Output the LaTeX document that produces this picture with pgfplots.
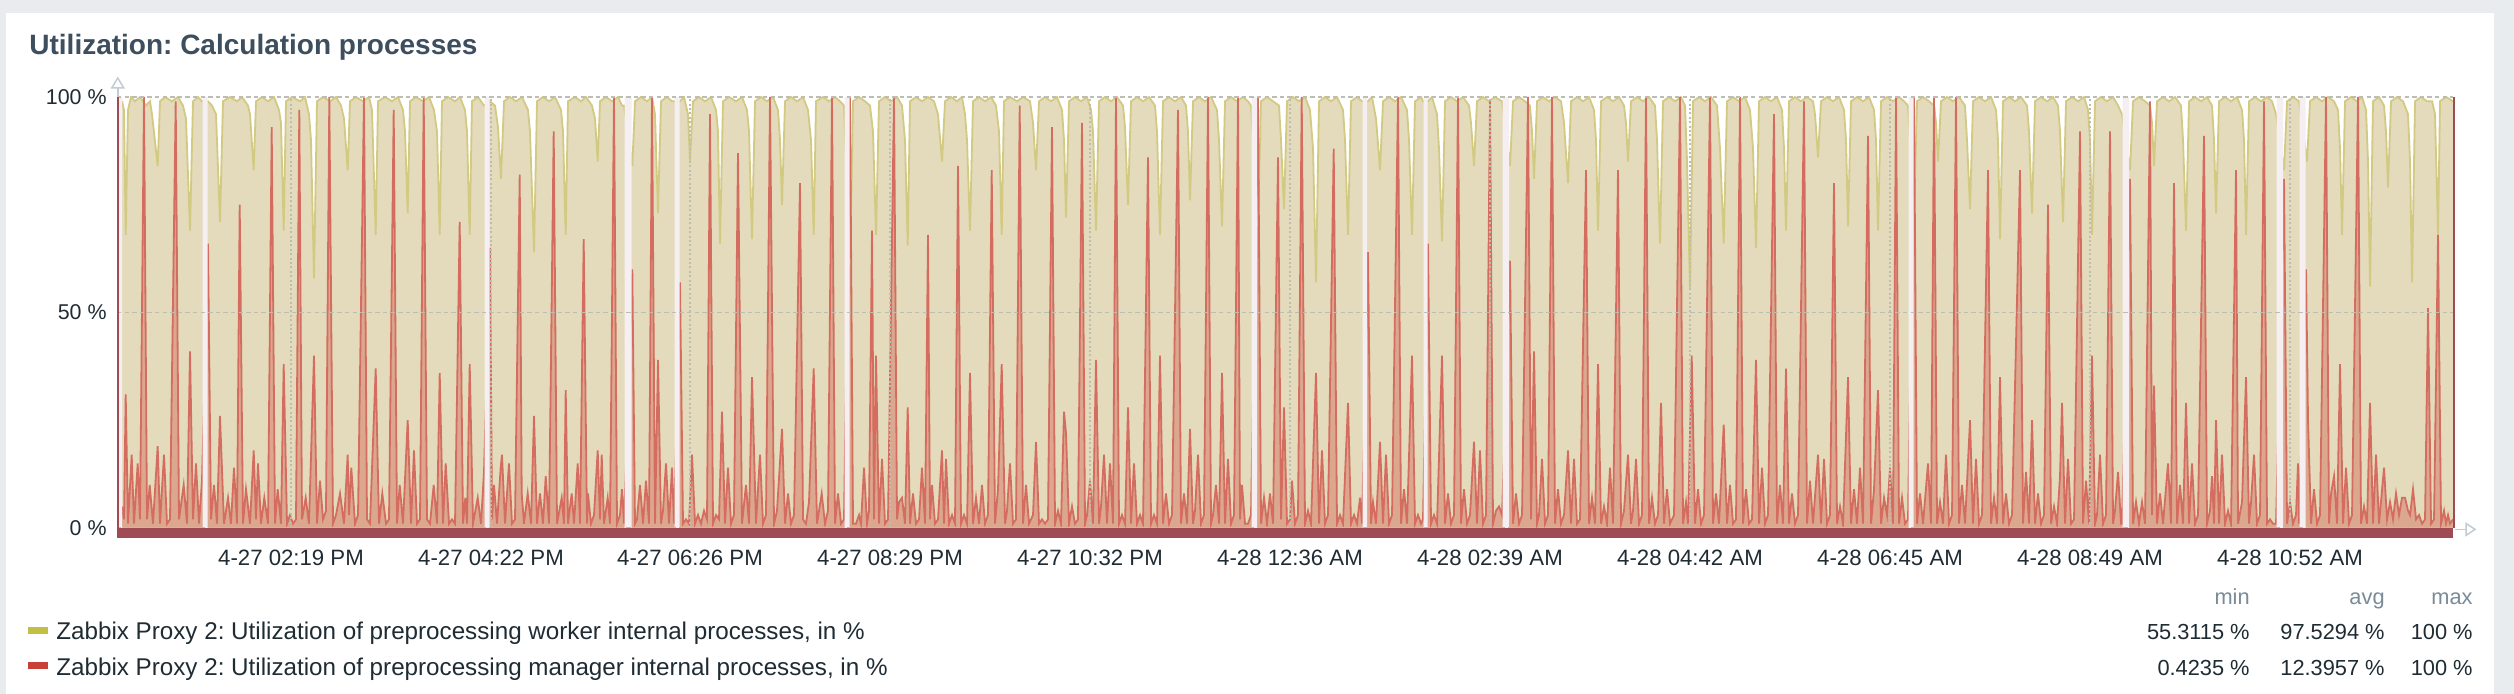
\documentclass[border=0pt]{standalone}
\usepackage{pgfplots}
\usepackage{pgfplotstable}
\pgfplotsset{compat=1.18}
\usepackage{fontspec}
\setmainfont{Liberation Sans}
\frenchspacing
\definecolor{outerbg}{HTML}{E8ECEF}
\definecolor{titlec}{HTML}{3D4F5E}
\definecolor{txt}{HTML}{1F2C33}
\definecolor{hdr}{HTML}{7A8B98}
\definecolor{beige}{HTML}{E3DBBB}
\definecolor{yline}{HTML}{D2C983}
\definecolor{rfill}{HTML}{DBA78E}
\definecolor{rline}{HTML}{D46D60}
\definecolor{gapc}{HTML}{F5EFF1}
\definecolor{barc}{HTML}{A04A55}
\definecolor{gridc}{HTML}{BDBDB3}
\definecolor{arrowc}{HTML}{C3CCD3}
\definecolor{legy}{HTML}{C2C044}
\definecolor{legr}{HTML}{C8403A}

% manager (red) series: x = horizontal position of the 24 h time axis, y = %
\pgfplotstableread[row sep=\\]{
x y\\
122 5\\ 124 2\\ 125.7 31\\ 128 1\\ 131.7 17\\ 134 1\\ 137.7 15\\ 140 2\\ 144 100\\ 147 2\\ 149.7 10\\ 153 1\\ 157.7 19\\ 160 1\\ 164 17\\ 167 1\\ 170 2\\ 175.7 99\\ 179 2\\ 183.7 10\\ 187 1\\ 190 41\\ 193 2\\ 196 15\\ 199 1\\ 202 11\\
208 66\\ 211 2\\ 214 10\\ 217 1\\ 220 26\\ 224 1\\ 228 7\\ 231 1\\ 234 14\\ 237 1\\ 239.7 75\\ 243 1\\ 246 9\\ 250 1\\ 253.7 18\\ 256 2\\ 258 15\\ 261 1\\ 264.3 7\\ 268 1\\ 271.7 93\\ 275 1\\ 277.7 9\\ 281 1\\ 283.7 38\\ 287 1\\ 290 3\\ 293 1\\ 296 2\\ 299.3 97\\ 302 2\\ 305.7 7\\ 309 1\\ 314 40\\ 317 1\\ 320 11\\ 323 2\\ 326 4\\ 329.3 100\\ 333 1\\ 336 3\\ 340 8\\ 344 1\\ 347.7 17\\ 349 3\\ 351.3 14\\ 355 1\\ 358 3\\ 364 100\\ 367 2\\ 370 1\\ 375.7 37\\ 379 1\\ 382.3 8\\ 386 1\\ 389 2\\ 393.7 97\\ 397 1\\ 399.7 10\\ 403 1\\ 407.7 25\\ 411 1\\ 414 18\\ 417 1\\ 420 2\\ 423.7 100\\ 427 2\\ 430 1\\ 433.7 10\\ 437 1\\ 439.7 36\\ 443 1\\ 445.7 15\\ 449 1\\ 452 2\\ 455 1\\ 459.7 71\\ 463 1\\ 465.3 7\\ 467 1\\ 469.7 38\\ 473 1\\ 477.7 7\\ 481 1\\ 484 13\\
490 65\\ 492 2\\ 494 10\\ 497 1\\ 500.7 14\\ 502 17\\ 505 1\\ 509 15\\ 512 1\\ 515 2\\ 519.7 82\\ 521.7 8\\ 524 1\\ 527.7 8\\ 531 1\\ 534 26\\ 537 1\\ 540 8\\ 543 1\\ 545.7 12\\ 549 1\\ 553.7 92\\ 557 1\\ 561.7 7\\ 564 1\\ 565.7 32\\ 568 1\\ 571.7 8\\ 574 1\\ 577.7 15\\ 580 1\\ 583.7 67\\ 587 1\\ 588 8\\ 591 1\\ 594 3\\ 597.7 18\\ 600 2\\ 601.7 17\\ 604 1\\ 607.7 7\\ 610 1\\ 614 100\\ 617 1\\ 620 3\\ 622 9\\ 624 1\\
632.3 60\\ 635 1\\ 637 2\\ 640 10\\ 643 1\\ 646 11\\ 649 1\\ 652 100\\ 655 1\\ 658 39\\ 661 1\\ 663 4\\ 666 15\\ 669 1\\ 672 14\\ 674 1\\
680 57\\ 683 1\\ 686 2\\ 689 1\\ 692 17\\ 695 1\\ 698 3\\ 701 1\\ 704 4\\ 707 2\\ 710 96\\ 713 1\\ 716 3\\ 719 2\\ 722 27\\ 725 1\\ 728 14\\ 731 1\\ 734 3\\ 738 87\\ 742 1\\ 746 10\\ 749 1\\ 752 35\\ 756 1\\ 760 17\\ 763 1\\ 766 3\\ 770 100\\ 774 1\\ 777 4\\ 782 23\\ 785 1\\ 788 8\\ 791 1\\ 794 3\\ 800 80\\ 803 2\\ 806 1\\ 809 6\\ 813.7 37\\ 817 1\\ 821.7 8\\ 825 1\\ 828 4\\ 832 100\\ 835 1\\ 838 8\\ 841 1\\ 844 2\\
850 100\\ 853 1\\ 856 1\\ 859 3\\ 861 1\\ 864 14\\ 867 1\\ 869 4\\ 872 69\\ 874 2\\ 876 40\\ 879 1\\ 882 16\\ 885 1\\ 888 2\\ 894 100\\ 897 2\\ 899 6\\ 902 7\\ 905 1\\ 907.7 28\\ 910 1\\ 913 8\\ 916 1\\ 919 2\\ 922 14\\ 925 1\\ 928 68\\ 930 2\\ 932 10\\ 935 1\\ 938 2\\ 942 18\\ 944 1\\ 946 16\\ 949 1\\ 952 3\\ 955 1\\ 958 84\\ 961 1\\ 964 3\\ 967 1\\ 970 36\\ 973 1\\ 976 7\\ 979 1\\ 982 10\\ 985 1\\ 988 3\\ 991.7 83\\ 995 1\\ 998 9\\ 1001.7 38\\ 1005 1\\ 1007 4\\ 1010 15\\ 1013 1\\ 1016 2\\ 1019.7 98\\ 1023 1\\ 1026 10\\ 1029 1\\ 1033 3\\ 1036 20\\ 1039 1\\ 1042 2\\ 1045 1\\ 1048 2\\ 1052 93\\ 1055 1\\ 1058 4\\ 1061 1\\ 1064 27\\ 1066 22\\ 1069 1\\ 1072 5\\ 1075 1\\ 1078 2\\ 1082 94\\ 1085 1\\ 1087 3\\ 1090 11\\ 1093 1\\ 1096 39\\ 1099 1\\ 1101 5\\ 1104 17\\ 1107 1\\ 1110 15\\ 1113 1\\ 1116 100\\ 1119 1\\ 1122 3\\ 1125 1\\ 1128 28\\ 1131 1\\ 1134 15\\ 1137 1\\ 1140 3\\ 1143 1\\ 1148 86\\ 1151 1\\ 1154 3\\ 1157 1\\ 1160 40\\ 1163 1\\ 1166 8\\ 1169 1\\ 1172 3\\ 1178 97\\ 1181 1\\ 1184 8\\ 1187 1\\ 1190 23\\ 1193 1\\ 1195 4\\ 1198 17\\ 1201 1\\ 1204 3\\ 1208 100\\ 1211 1\\ 1213 3\\ 1216 10\\ 1219 1\\ 1222 36\\ 1225 1\\ 1228 16\\ 1231 1\\ 1234 3\\ 1238 100\\ 1240 2\\ 1242 10\\ 1245 1\\ 1248 1\\ 1251 3\\
1258 100\\ 1261 1\\ 1264 7\\ 1267 1\\ 1270 8\\ 1273 1\\ 1278 86\\ 1281 2\\ 1284 28\\ 1287 1\\ 1290 2\\ 1292 11\\ 1295 1\\ 1298 3\\ 1301.7 100\\ 1305 1\\ 1308 4\\ 1311 1\\ 1316 36\\ 1319 1\\ 1322 18\\ 1325 1\\ 1328 3\\ 1333.7 88\\ 1337 1\\ 1340 3\\ 1343 1\\ 1348 29\\ 1351 1\\ 1354 3\\ 1357 1\\ 1360 7\\ 1362 1\\
1368 64\\ 1371 1\\ 1373 6\\ 1376 1\\ 1380 20\\ 1383 1\\ 1386 17\\ 1389 1\\ 1392 3\\ 1398 100\\ 1401 1\\ 1404 9\\ 1407 1\\ 1412 40\\ 1415 1\\ 1418 3\\ 1421 1\\ 1423 2\\
1428 66\\ 1431 1\\ 1434 3\\ 1437 1\\ 1442 40\\ 1445 1\\ 1448 8\\ 1451 1\\ 1454 3\\ 1458 100\\ 1461 1\\ 1464 9\\ 1467 1\\ 1470 3\\ 1474 20\\ 1477 1\\ 1480 18\\ 1483 1\\ 1486 3\\ 1490 99\\ 1493 1\\ 1496 4\\ 1499 5\\ 1502 3\\
1510 62\\ 1513 1\\ 1516 8\\ 1519 1\\ 1522 3\\ 1528 100\\ 1531 2\\ 1534 41\\ 1537 1\\ 1539 3\\ 1542 16\\ 1545 1\\ 1548 3\\ 1552 100\\ 1555 1\\ 1558 9\\ 1561 1\\ 1564 3\\ 1568 18\\ 1571 1\\ 1574 16\\ 1577 1\\ 1580 2\\ 1586 83\\ 1589 1\\ 1592 7\\ 1595 1\\ 1598 38\\ 1601 1\\ 1604 5\\ 1607 1\\ 1610 14\\ 1613 1\\ 1618 83\\ 1621 1\\ 1624 4\\ 1628 17\\ 1631 1\\ 1633 4\\ 1636 16\\ 1639 1\\ 1642 3\\ 1646 100\\ 1649 1\\ 1652 7\\ 1655 1\\ 1658 3\\ 1661 29\\ 1664 1\\ 1667 9\\ 1670 1\\ 1674 3\\ 1680 100\\ 1683 1\\ 1686 6\\ 1688 1\\ 1691.7 40\\ 1695 1\\ 1698 9\\ 1701 1\\ 1704 3\\ 1710 100\\ 1713 1\\ 1716 8\\ 1719 1\\ 1723.7 24\\ 1727 1\\ 1730 10\\ 1733 1\\ 1736 2\\ 1740 100\\ 1743 1\\ 1746 9\\ 1749 1\\ 1752 2\\ 1756 39\\ 1759 1\\ 1762 14\\ 1765 1\\ 1768 3\\ 1774 96\\ 1777 1\\ 1780 10\\ 1783 1\\ 1786 37\\ 1789 1\\ 1792 8\\ 1795 1\\ 1798 3\\ 1804 99\\ 1807 1\\ 1810 11\\ 1813 1\\ 1818 17\\ 1821 1\\ 1824 16\\ 1827 1\\ 1830 3\\ 1834 80\\ 1837 1\\ 1840 5\\ 1843 1\\ 1848 35\\ 1851 1\\ 1854 9\\ 1857 1\\ 1860 14\\ 1863 1\\ 1868 91\\ 1871 1\\ 1874 9\\ 1878 32\\ 1881 1\\ 1884 7\\ 1887 3\\ 1890 14\\ 1893 1\\ 1896 100\\ 1899 1\\ 1902 7\\ 1905 1\\ 1908 2\\
1914 100\\ 1917 1\\ 1920 8\\ 1923 1\\ 1928 15\\ 1931 1\\ 1934 100\\ 1937 1\\ 1940 6\\ 1943 1\\ 1946 17\\ 1949 1\\ 1952 3\\ 1956 100\\ 1959 1\\ 1962 10\\ 1965 1\\ 1970 25\\ 1973 1\\ 1976 16\\ 1979 1\\ 1982 3\\ 1988 83\\ 1991 1\\ 1994 7\\ 1997 1\\ 2000 35\\ 2003 1\\ 2006 8\\ 2009 1\\ 2012 3\\ 2020 83\\ 2023 1\\ 2026 13\\ 2029 1\\ 2032 25\\ 2035 1\\ 2038 8\\ 2041 1\\ 2044 3\\ 2048 75\\ 2051 1\\ 2054 5\\ 2057 1\\ 2060 12\\ 2062 29\\ 2065 1\\ 2068 16\\ 2071 1\\ 2074 2\\ 2080 92\\ 2083 1\\ 2086 11\\ 2089 1\\ 2092 40\\ 2095 1\\ 2097 3\\ 2100 17\\ 2103 1\\ 2106 3\\ 2110 92\\ 2113 1\\ 2115 4\\ 2118 13\\ 2121 1\\ 2122 1\\
2130 81\\ 2133 1\\ 2136 6\\ 2139 1\\ 2142 6\\ 2145 1\\ 2150 99\\ 2152 3\\ 2154 33\\ 2157 1\\ 2160 8\\ 2163 1\\ 2168 15\\ 2171 1\\ 2174 80\\ 2177 1\\ 2180 10\\ 2183 1\\ 2186 29\\ 2189 1\\ 2192 15\\ 2195 1\\ 2198 3\\ 2204 91\\ 2207 1\\ 2210 4\\ 2212 12\\ 2214 1\\ 2216 25\\ 2219 1\\ 2222 17\\ 2225 1\\ 2228 4\\ 2231 1\\ 2236 83\\ 2238 1\\ 2242 6\\ 2246 35\\ 2249 1\\ 2251 6\\ 2254 17\\ 2257 1\\ 2260 3\\ 2264 99\\ 2267 1\\ 2270 2\\ 2273 1\\ 2276 1\\
2284 81\\ 2287 1\\ 2290 6\\ 2293 1\\ 2296 3\\ 2298 15\\ 2299 1\\
2306 60\\ 2308 25\\ 2311 1\\ 2314 9\\ 2317 1\\ 2320 3\\ 2326 100\\ 2329 1\\ 2331 8\\ 2334 12\\ 2337 1\\ 2340 38\\ 2343 1\\ 2346 14\\ 2349 1\\ 2352 3\\ 2358 100\\ 2361 1\\ 2364 5\\ 2367 1\\ 2370 29\\ 2373 1\\ 2376 17\\ 2379 1\\ 2384 14\\ 2387 2\\ 2390 6\\ 2393 2\\ 2396 8\\ 2399 3\\ 2402 7\\ 2405 7\\ 2408 4\\ 2410 3\\ 2413 9\\ 2416 2\\ 2419 3\\ 2422 1\\ 2425 2\\ 2428 51\\ 2431 1\\ 2434 2\\ 2438 68\\ 2441 1\\ 2444 4\\ 2446 1\\ 2448 3\\ 2450 1\\ 2453 2\\
}\mgrtab

% worker (yellow) series
\pgfplotstableread[row sep=\\]{
x y\\
122 99\\ 124 97\\ 125.7 68\\ 128 97\\ 131 100\\ 135 99\\ 140 100\\ 146 98\\ 150 99\\ 152 96\\ 157.7 84\\ 160 99\\ 165 100\\ 172 99\\ 178 100\\ 183 98\\ 186 95\\ 190 69\\ 193 99\\ 198 100\\ 202 99\\
208 99\\ 212 98\\ 216 96\\ 220 71\\ 223 99\\ 230 100\\ 237 99\\ 242 100\\ 248 98\\ 250 96\\ 253.7 83\\ 256 99\\ 262 100\\ 268 99\\ 274 100\\ 279 97\\ 281 94\\ 283.7 69\\ 286 99\\ 292 100\\ 300 99\\ 305 100\\ 309 96\\ 311 90\\ 314 58\\ 317 99\\ 323 100\\ 330 99\\ 336 100\\ 341 98\\ 344 95\\ 347.7 83\\ 350 99\\ 356 100\\ 363 99\\ 369 100\\ 372 97\\ 375.7 68\\ 378 99\\ 385 100\\ 392 99\\ 398 100\\ 403 97\\ 405 92\\ 407.7 73\\ 410 99\\ 416 100\\ 423 99\\ 429 100\\ 434 97\\ 437 92\\ 439.7 68\\ 442 99\\ 448 100\\ 455 99\\ 460 100\\ 465 97\\ 467 92\\ 469.7 68\\ 472 99\\ 478 100\\ 484 98\\
490 99\\ 495 98\\ 498 93\\ 501 81\\ 504 99\\ 510 100\\ 516 99\\ 522 100\\ 528 97\\ 530 92\\ 534 64\\ 537 99\\ 543 100\\ 549 99\\ 555 100\\ 561 97\\ 563 92\\ 565.7 68\\ 568 99\\ 575 100\\ 581 99\\ 586 100\\ 592 98\\ 595 95\\ 597.7 85\\ 600 99\\ 606 100\\ 612 99\\ 618 100\\ 622 98\\ 624 98\\
632.3 84\\ 635 99\\ 641 100\\ 647 99\\ 652 100\\ 655 96\\ 658 73\\ 661 99\\ 667 100\\ 672 99\\ 674 99\\
680 99\\ 684 100\\ 688 96\\ 690 85\\ 693 99\\ 699 100\\ 705 99\\ 711 100\\ 716 97\\ 718 92\\ 720 66\\ 723 99\\ 729 100\\ 736 99\\ 742 100\\ 747 97\\ 749 92\\ 752 67\\ 755 99\\ 761 100\\ 767 99\\ 773 100\\ 778 97\\ 780 90\\ 782 75\\ 785 99\\ 791 100\\ 797 99\\ 803 100\\ 808 97\\ 811 90\\ 813.7 68\\ 816 99\\ 823 100\\ 829 99\\ 835 100\\ 840 99\\ 844 98\\
850 61\\ 853 99\\ 859 100\\ 865 99\\ 870 98\\ 873 92\\ 876 68\\ 879 99\\ 885 100\\ 891 99\\ 897 100\\ 902 98\\ 905 90\\ 907.7 65.5\\ 910 99\\ 916 100\\ 922 99\\ 928 100\\ 934 99\\ 938 96\\ 942 85\\ 945 99\\ 951 100\\ 957 99\\ 962 100\\ 965 96\\ 967 90\\ 970 69\\ 973 99\\ 979 100\\ 985 99\\ 991 100\\ 996 98\\ 999 92\\ 1001.7 68\\ 1004 99\\ 1010 100\\ 1017 99\\ 1023 100\\ 1030 99\\ 1033 94\\ 1036 83\\ 1039 99\\ 1045 100\\ 1051 99\\ 1057 100\\ 1062 97\\ 1064 90\\ 1066 72\\ 1069 99\\ 1075 100\\ 1081 99\\ 1087 100\\ 1091 97\\ 1093 92\\ 1096 69\\ 1099 99\\ 1105 100\\ 1111 99\\ 1117 100\\ 1123 98\\ 1125 93\\ 1128 75\\ 1131 99\\ 1137 100\\ 1143 99\\ 1149 100\\ 1155 98\\ 1157 92\\ 1160 68\\ 1163 99\\ 1169 100\\ 1175 99\\ 1181 100\\ 1186 98\\ 1188 92\\ 1190 76\\ 1193 99\\ 1199 100\\ 1205 99\\ 1211 100\\ 1217 97\\ 1219 90\\ 1222 70\\ 1225 99\\ 1231 100\\ 1237 99\\ 1243 100\\ 1248 99\\ 1251 98\\
1258 70\\ 1261 99\\ 1267 100\\ 1273 99\\ 1279 98\\ 1281 90\\ 1284 74\\ 1287 99\\ 1293 100\\ 1299 99\\ 1305 100\\ 1310 97\\ 1313 88\\ 1316 57\\ 1319 99\\ 1325 100\\ 1331 99\\ 1337 100\\ 1343 97\\ 1345 90\\ 1348 68\\ 1351 99\\ 1357 100\\ 1362 99\\
1368 99\\ 1372 100\\ 1376 95\\ 1380 83\\ 1383 99\\ 1389 100\\ 1395 99\\ 1401 100\\ 1407 97\\ 1409 90\\ 1412 68\\ 1415 99\\ 1421 100\\ 1423 99\\
1428 99\\ 1432 100\\ 1437 96\\ 1439 88\\ 1442 66.5\\ 1445 99\\ 1451 100\\ 1457 99\\ 1463 100\\ 1469 98\\ 1471 94\\ 1474 84\\ 1477 99\\ 1483 100\\ 1489 99\\ 1495 100\\ 1502 99\\
1510 84\\ 1513 99\\ 1519 100\\ 1525 99\\ 1530 98\\ 1532 92\\ 1534 81\\ 1537 99\\ 1543 100\\ 1549 99\\ 1555 100\\ 1561 99\\ 1564 94\\ 1568 80\\ 1571 99\\ 1577 100\\ 1583 99\\ 1589 100\\ 1594 97\\ 1596 90\\ 1598 69\\ 1601 99\\ 1607 100\\ 1613 99\\ 1619 100\\ 1624 98\\ 1626 94\\ 1628 85\\ 1631 99\\ 1637 100\\ 1643 99\\ 1649 100\\ 1655 98\\ 1657 90\\ 1660 66\\ 1663 99\\ 1669 100\\ 1675 99\\ 1681 100\\ 1685 98\\ 1687 85\\ 1690 55.3\\ 1693 99\\ 1699 100\\ 1705 99\\ 1711 100\\ 1717 98\\ 1720 88\\ 1723.7 66\\ 1727 99\\ 1733 100\\ 1739 99\\ 1745 100\\ 1750 97\\ 1753 88\\ 1756 65\\ 1759 99\\ 1765 100\\ 1771 99\\ 1777 100\\ 1782 97\\ 1784 88\\ 1786 69\\ 1789 99\\ 1795 100\\ 1801 99\\ 1807 100\\ 1813 99\\ 1815 96\\ 1818 86\\ 1821 99\\ 1827 100\\ 1833 99\\ 1839 100\\ 1844 97\\ 1846 90\\ 1848 70\\ 1851 99\\ 1857 100\\ 1863 99\\ 1869 100\\ 1874 97\\ 1876 90\\ 1878 69\\ 1881 99\\ 1887 100\\ 1893 99\\ 1899 100\\ 1904 99\\ 1908 98\\
1914 72\\ 1917 99\\ 1923 100\\ 1929 99\\ 1934 98\\ 1936 94\\ 1938 85\\ 1941 99\\ 1947 100\\ 1953 99\\ 1959 100\\ 1965 98\\ 1967 90\\ 1970 74\\ 1973 99\\ 1979 100\\ 1985 99\\ 1991 100\\ 1996 97\\ 1998 90\\ 2000 67\\ 2003 99\\ 2009 100\\ 2015 99\\ 2021 100\\ 2027 98\\ 2029 92\\ 2032 73\\ 2035 99\\ 2041 100\\ 2047 99\\ 2053 100\\ 2058 98\\ 2060 92\\ 2063 71\\ 2066 99\\ 2072 100\\ 2078 99\\ 2084 100\\ 2088 97\\ 2090 90\\ 2092 68\\ 2095 99\\ 2101 100\\ 2107 99\\ 2113 100\\ 2118 98\\ 2122 96\\
2130 83\\ 2133 99\\ 2139 100\\ 2145 99\\ 2150 98\\ 2152 94\\ 2154 84\\ 2157 99\\ 2163 100\\ 2169 99\\ 2175 100\\ 2181 98\\ 2183 90\\ 2186 69\\ 2189 99\\ 2195 100\\ 2201 99\\ 2207 100\\ 2212 98\\ 2214 90\\ 2216 73\\ 2219 99\\ 2225 100\\ 2231 99\\ 2237 100\\ 2242 97\\ 2244 90\\ 2246 68\\ 2249 99\\ 2255 100\\ 2261 99\\ 2267 100\\ 2272 99\\ 2276 96\\
2284 83\\ 2287 99\\ 2293 100\\ 2299 99\\
2307 85\\ 2310 99\\ 2316 100\\ 2322 99\\ 2328 100\\ 2334 99\\ 2338 97\\ 2340 88\\ 2342 68\\ 2345 99\\ 2351 100\\ 2357 99\\ 2362 100\\ 2366 97\\ 2368 85\\ 2370 56\\ 2373 99\\ 2379 100\\ 2384 98\\ 2386 92\\ 2388 79\\ 2391 99\\ 2397 100\\ 2403 99\\ 2408 96\\ 2410 85\\ 2412 57\\ 2415 99\\ 2421 100\\ 2427 99\\ 2432 99\\ 2435 96\\ 2438 68\\ 2440 99\\ 2446 100\\ 2453 99\\
}\wrktab

% intervals with no data (value 100 = no data from this x to the next x)
\pgfplotstableread[row sep=\\]{
x y\\
117 100\\ 122 0\\ 202.5 100\\ 207.5 0\\ 484.5 100\\ 489.5 0\\ 624.5 100\\ 631.5 0\\ 674.5 100\\ 679.5 0\\ 844.5 100\\ 849.5 0\\ 1251.5 100\\ 1257 0\\ 1362.5 100\\ 1367 0\\ 1423.5 100\\ 1427.5 0\\ 1502.5 100\\ 1509 0\\ 1908.5 100\\ 1913.5 0\\ 2122.5 100\\ 2129 0\\ 2276.5 100\\ 2283 0\\ 2299.5 100\\ 2305.5 0\\ 2453 0\\
}\gaptab

\begin{document}
\begin{tikzpicture}
\fill[outerbg] (0,0) rectangle (1257pt,347pt);
\fill[white] (3pt,0) rectangle (1247pt,340.5pt);
\node[anchor=base west, inner sep=0pt, text=titlec, font=\fontsize{14}{16}\selectfont\bfseries] at (14.5pt,319.5pt) {Utilization: Calculation processes};

\begin{axis}[
  scale only axis, width=1168pt, height=215.5pt,
  at={(58.5pt,83pt)}, anchor=south west,
  xmin=117, xmax=2453, ymin=0, ymax=100,
  axis line style={draw=none},
  xtick={291,491,690,890,1090,1290,1490,1690,1890,2090,2290},
  xticklabels={4-27 02:19 PM,4-27 04:22 PM,4-27 06:26 PM,4-27 08:29 PM,4-27 10:32 PM,4-28 12:36 AM,4-28 02:39 AM,4-28 04:42 AM,4-28 06:45 AM,4-28 08:49 AM,4-28 10:52 AM},
  ytick={0,50,100}, yticklabels={0 \%,50 \%,100 \%},
  major tick length=0pt,
  tick label style={text=txt},
  xticklabel style={font=\fontsize{11.1}{13}\selectfont, anchor=base, yshift=-19pt, inner sep=0pt},
  yticklabel style={font=\fontsize{10.7}{13}\selectfont, anchor=east, xshift=-5pt, inner sep=0pt},
  grid=major,
  x grid style={draw=gridc, line width=0.7pt, dash pattern=on 1pt off 1.2pt},
  y grid style={draw=gridc, line width=0.7pt, dash pattern=on 2.2pt off 1.6pt},
  axis on top,
  no marks,
]
\addplot[draw=none, fill=beige] table[x=x, y=y] {\wrktab} \closedcycle;
\addplot[draw=none, fill=rfill] table[x=x, y=y] {\mgrtab} \closedcycle;
\addplot[yline, line width=0.9pt] table[x=x, y=y] {\wrktab};
\addplot[rline, line width=0.9pt] table[x=x, y=y] {\mgrtab};
\addplot[const plot, draw=none, fill=gapc] table[x=x, y=y] {\gaptab} \closedcycle;
\end{axis}

% axis decorations
\fill[barc] (58.3pt,78pt) rectangle (1226.5pt,83pt);
\fill[barc] (58.3pt,78pt) rectangle (59.5pt,298.5pt);
\fill[barc] (1226.7pt,83pt) rectangle (1227.7pt,298.5pt);
\draw[arrowc, line width=0.75pt] (58.9pt,298.5pt) -- (58.9pt,303pt);
\draw[arrowc, line width=0.75pt, fill=white] (58.9pt,308pt) -- (55.9pt,303pt) -- (61.9pt,303pt) -- cycle;
\draw[arrowc, line width=0.75pt] (1227.7pt,82.3pt) -- (1233pt,82.3pt);
\draw[arrowc, line width=0.75pt, fill=white] (1237.5pt,82.3pt) -- (1233pt,85.3pt) -- (1233pt,79.3pt) -- cycle;

% legend
\fill[legy] (13.85pt,30pt) rectangle (23.9pt,33.6pt);
\fill[legr] (13.85pt,12.45pt) rectangle (23.9pt,16.05pt);
\begin{scope}[every node/.style={inner sep=0pt, font=\fontsize{10.9}{13}\selectfont, text=txt}]
\node[anchor=base west, font=\fontsize{12.1}{14}\selectfont] at (28pt,27pt) {Zabbix Proxy 2: Utilization of preprocessing worker internal processes, in \%};
\node[anchor=base west, font=\fontsize{12.1}{14}\selectfont] at (28pt,9pt) {Zabbix Proxy 2: Utilization of preprocessing manager internal processes, in \%};
\node[anchor=base east, text=hdr] at (1125pt,44.5pt) {min};
\node[anchor=base east, text=hdr] at (1192.5pt,44.5pt) {avg};
\node[anchor=base east, text=hdr] at (1236.5pt,44.5pt) {max};
\node[anchor=base east] at (1125pt,27pt) {55.3115 \%};
\node[anchor=base east] at (1192.5pt,27pt) {97.5294 \%};
\node[anchor=base east] at (1236.5pt,27pt) {100 \%};
\node[anchor=base east] at (1125pt,9pt) {0.4235 \%};
\node[anchor=base east] at (1192.5pt,9pt) {12.3957 \%};
\node[anchor=base east] at (1236.5pt,9pt) {100 \%};
\end{scope}
\pgfresetboundingbox
\useasboundingbox (0,0) rectangle (1257pt,347pt);
\end{tikzpicture}
\end{document}
